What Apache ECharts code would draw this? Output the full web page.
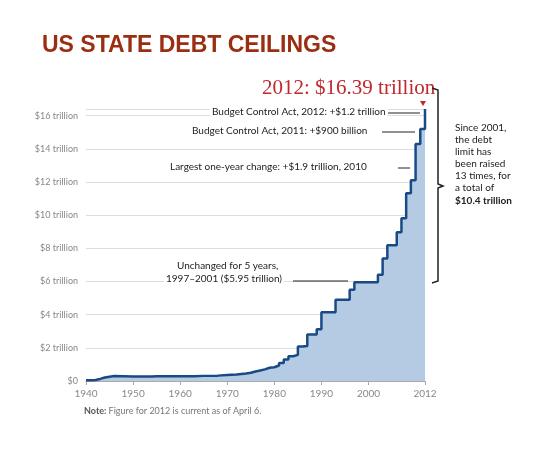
<!DOCTYPE html>
<html><head><meta charset="utf-8">
<script src="https://cdn.jsdelivr.net/npm/echarts@6/dist/echarts.min.js"></script>
<style>html,body{margin:0;background:#fff}#c{width:534px;height:462px}</style></head>
<body><div id="c"></div>
<script>
const years = [1940,1941,1942,1943,1944,1945,1946,1950,1954,1955,1958,1960,1963,1965,1968,1970,1972,1974,1975,1976,1977,1978,1979,1980,1981,1982,1983,1984,1985,1986,1987,1988,1989,1990,1991,1992,1993,1994,1995,1996,1997,1998,1999,2000,2001,2002,2003,2004,2005,2006,2007,2008,2009,2010,2011,2012];
const limits = [0.045,0.065,0.125,0.21,0.26,0.30,0.275,0.275,0.281,0.281,0.288,0.293,0.309,0.324,0.365,0.395,0.45,0.495,0.577,0.636,0.70,0.798,0.83,0.935,1.079,1.29,1.49,1.573,2.079,2.111,2.8,2.8,3.123,4.145,4.145,4.145,4.9,4.9,4.9,5.5,5.95,5.95,5.95,5.95,5.95,6.4,7.384,8.184,8.184,8.965,9.815,11.315,12.104,14.294,15.194,16.394];
const yTicks = ['$0','$2 trillion','$4 trillion','$6 trillion','$8 trillion','$10 trillion','$12 trillion','$14 trillion','$16 trillion'];
const xTicks = [1940,1950,1960,1970,1980,1990,2000,2012];
const chart = echarts.init(document.getElementById('c'));
const f = 'Lato';
const txt = (x,y,t,o={}) => ({type:'text',left:x,top:y,z:10,style:Object.assign({text:t,fill:'#222',font:'10px '+f,backgroundColor:'#fff',padding:[0,2]},o)});
const ln = (x1,y1,x2,y2) => ({type:'line',z:10,shape:{x1,y1,x2,y2},style:{stroke:'#222',lineWidth:1}});
chart.setOption({
  animation:false,
  grid:{left:86,right:109,top:109,bottom:81},
  xAxis:{type:'value',min:1940,max:2012,interval:10,
    axisLine:{lineStyle:{color:'#aaa'}},splitLine:{show:false},
    axisLabel:{color:'#888',fontFamily:f,fontSize:10,customValues:xTicks,formatter:v=>String(v)},
    axisTick:{show:true,length:4,customValues:xTicks,lineStyle:{color:'#aaa'}}},
  yAxis:{type:'value',min:0,max:16.4,interval:2,
    axisLine:{show:false},axisTick:{show:false},
    splitLine:{lineStyle:{color:'#ddd'}},
    axisLabel:{color:'#888',fontFamily:f,fontSize:9,formatter:v=>yTicks[v/2]||''}},
  series:[{type:'line',step:'end',symbol:'none',data:years.map((y,i)=>[y,limits[i]]),
    lineStyle:{color:'#1a4a86',width:2.5},areaStyle:{color:'#b5cbe3',opacity:1}}],
  graphic:[
    {type:'text',left:42,top:34,style:{text:'US STATE DEBT CEILINGS',fill:'#9a2d12',font:'bold 23px Liberation Sans'}},
    {type:'text',left:262,top:78,style:{text:'2012: $16.39 trillion',fill:'#c0282d',font:'21px Liberation Serif'}},
    {type:'polygon',shape:{points:[[420,101],[426,101],[423,106]]},style:{fill:'#c0282d'}},
    txt(210,107,'Budget Control Act, 2012: +$1.2 trillion'), ln(388,113,420,113),
    txt(190,126,'Budget Control Act, 2011: +$900 billion'), ln(382,132,415,132),
    txt(168,162,'Largest one-year change: +$1.9 trillion, 2010'), ln(398,168,410,168),
    txt(175,261,'Unchanged for 5 years,'), txt(164,274,'1997–2001 ($5.95 trillion)'),
    ln(293,281,348,281),
    {type:'polyline',shape:{points:[[432,88],[438,90],[438,184],[443,186],[438,188],[438,281],[432,283]]},style:{stroke:'#222',lineWidth:1.5,fill:null}},
    {type:'text',left:455,top:122,style:{text:'Since 2001,\nthe debt\nlimit has\nbeen raised\n13 times, for\na total of',fill:'#222',font:'10px '+f,lineHeight:12}},
    {type:'text',left:455,top:196,style:{text:'$10.4 trillion',fill:'#222',font:'bold 10px '+f}},
    {type:'text',left:84,top:407,style:{text:'{b|Note:} Figure for 2012 is current as of April 6.',fill:'#777',font:'9px '+f,rich:{b:{fontWeight:'bold',fill:'#555',fontSize:9,fontFamily:f}}}}
  ]
});
</script></body></html>
